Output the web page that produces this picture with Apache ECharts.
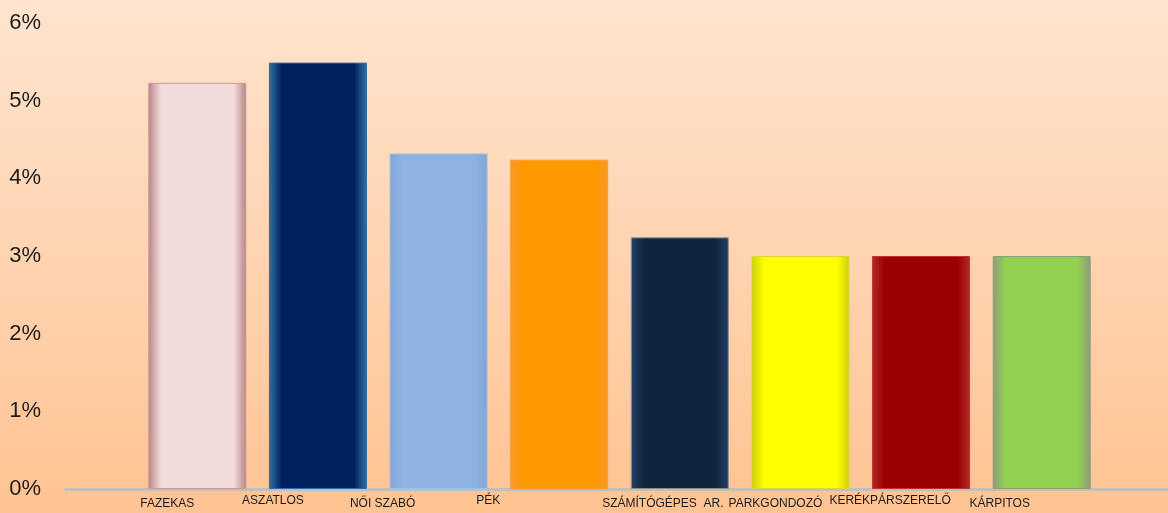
<!DOCTYPE html>
<html>
<head>
<meta charset="utf-8">
<script src="https://cdn.jsdelivr.net/npm/echarts@6/dist/echarts.min.js"></script>
<style>
html,body{margin:0;padding:0;width:1168px;height:513px;overflow:hidden;}
#c{width:1168px;height:513px;}
</style>
</head>
<body>
<div id="c"></div>
<script>
// ---- data ----
var categories = ['FAZEKAS', 'ASZATLOS', 'NŐI SZABÓ', 'PÉK', 'SZÁMÍTÓGÉPES  AR.', 'PARKGONDOZÓ', 'KERÉKPÁRSZERELŐ', 'KÁRPITOS'];
var values = [5.23, 5.49, 4.32, 4.24, 3.24, 3.0, 3.0, 3.0];
var yTicks = [0, 1, 2, 3, 4, 5, 6];

// ---- styles ----
var fills = ['#f2dcdb', '#002060', '#8db3e2', '#ff9900', '#10243e', '#ffff00', '#990000', '#92d050'];
var edges = ['#b88484', '#2f74a8', '#7fa6d6', '#f8982a', '#23426a', '#cccc10', '#b52a2a', '#8d9a80'];
var borders = ['#c49a96', '#2b6aa6', '#9fbfe6', '#fb9d2c', '#8c8c8c', '#d8d83a', '#c03030', '#8da070'];
var labelShift = [30, 45, 56, 71, 17, 25, 31, 42];   // px leftward shift of each label
var labelHigh = [false, true, false, true, false, false, true, false];

var rich = {};
categories.forEach(function (c, i) {
  rich['r' + i] = {
    fontSize: 12,
    fontFamily: 'Liberation Sans',
    color: '#1a1a1a',
    lineHeight: 14,
    padding: [labelHigh[i] ? 0 : 5, labelShift[i] * 2, 0, 0]
  };
});

var barData = values.map(function (v, i) {
  return {
    value: v,
    itemStyle: {
      color: {
        type: 'linear', x: 0, y: 0, x2: 1, y2: 0,
        colorStops: [
          {offset: 0, color: edges[i]},
          {offset: 0.13, color: fills[i]},
          {offset: 0.87, color: fills[i]},
          {offset: 1, color: edges[i]}
        ]
      },
      borderColor: borders[i],
      borderWidth: 1
    }
  };
});

var chart = echarts.init(document.getElementById('c'));
chart.setOption({
  animation: false,
  backgroundColor: {
    type: 'linear', x: 0, y: 0, x2: 0, y2: 1,
    colorStops: [{offset: 0, color: '#fee4cf'}, {offset: 1, color: '#ffc392'}]
  },
  grid: [
    {left: 137, right: 66, top: 23, bottom: 24},
    {left: 66, right: 0, top: 23, bottom: 24}
  ],
  xAxis: [
    {
      type: 'category',
      data: categories,
      gridIndex: 0,
      axisLine: {show: false},
      axisTick: {show: false},
      axisLabel: {
        margin: 5,
        interval: 0,
        formatter: function (v, i) { return '{r' + i + '|' + v + '}'; },
        rich: rich
      }
    },
    {
      type: 'value',
      gridIndex: 1,
      min: 0, max: 1,
      axisLine: {show: true, lineStyle: {color: '#bfbfbf', width: 3}},
      axisTick: {show: false},
      axisLabel: {show: false},
      splitLine: {show: false}
    }
  ],
  yAxis: [
    {
      type: 'value',
      gridIndex: 0,
      min: yTicks[0],
      max: yTicks[yTicks.length - 1],
      interval: 1,
      axisLine: {show: false},
      axisTick: {show: false},
      splitLine: {show: false},
      axisLabel: {
        margin: 96,
        formatter: '{value}%',
        fontSize: 22,
        fontFamily: 'Liberation Sans',
        color: '#1a1a1a'
      }
    },
    {
      type: 'value',
      gridIndex: 1,
      min: 0, max: 1,
      show: false
    }
  ],
  series: [
    {
      type: 'bar',
      xAxisIndex: 0,
      yAxisIndex: 0,
      barWidth: 98,
      data: barData,
      z: 3
    }
  ]
});
</script>
</body>
</html>
